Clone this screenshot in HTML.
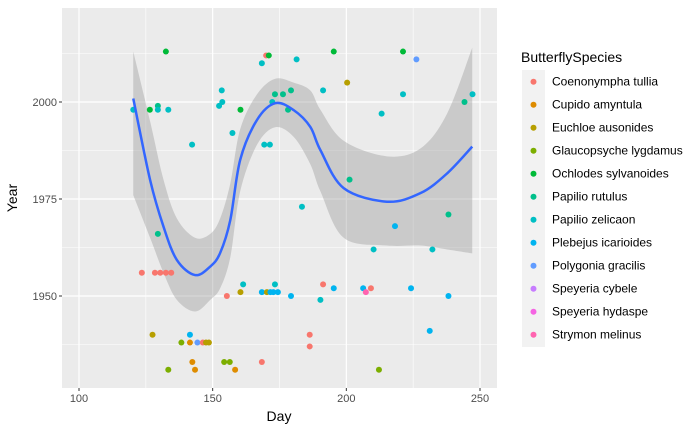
<!DOCTYPE html>
<html><head><meta charset="utf-8">
<style>
body{margin:0;background:#fff;}
svg{display:block;font-family:"Liberation Sans",sans-serif;}
</style></head>
<body>
<svg id="chart" width="700" height="432" xmlns="http://www.w3.org/2000/svg">
<rect x="0" y="0" width="700" height="432" fill="#fff"/>
<rect x="62" y="8" width="435" height="380" fill="#EBEBEB"/>
<g id="grid"></g>
<g id="band"></g>
<g id="points"></g>
<g id="smooth"></g>
<g id="axes"></g>
<text x="279" y="421" text-anchor="middle" font-size="14" fill="#000">Day</text>
<text x="17" y="198" text-anchor="middle" font-size="14" fill="#000" transform="rotate(-90 17 198)">Year</text>
<text x="521" y="62" font-size="14" fill="#000">ButterflySpecies</text>
<rect x="522" y="70" width="23" height="277" fill="#F2F2F2"/>
<g id="legend"></g>
</svg>
<script>
const species = ["Coenonympha tullia","Cupido amyntula","Euchloe ausonides","Glaucopsyche lygdamus","Ochlodes sylvanoides","Papilio rutulus","Papilio zelicaon","Plebejus icarioides","Polygonia gracilis","Speyeria cybele","Speyeria hydaspe","Strymon melinus"];
const colors = ["#F8766D","#DE8C00","#B79F00","#7CAE00","#00BA38","#00C08B","#00BFC4","#00B4F0","#619CFF","#C77CFF","#F564E3","#FF64B0"];
const xTicks = [100,150,200,250];
const yTicks = [1950,1975,2000];
// point data: day, year, species index
const ptDay =  [132.5,170,171,168.4,181.4,153.4,153.6,152.4,120.3,126.5,129.5,129.5,133.4,160.4,157.4,142.3,173.3,176.3,179.3,172.3,178.2,169.3,171.4,183.4,129.5,123.5,128.4,130.4,132.5,134.5,161.4,173.3,155.3,160.4,168.4,170.3,171.6,172.7,174.4,179.3,127.5,141.5,138.3,141.5,144.3,146.3,147.5,148.6,142.4,143.4,133.4,154.3,156.4,158.4,168.4,186.3,186.3,195.3,221.2,226.2,200.3,191.3,221.2,213.2,244.2,247.2,201.2,238.2,218.2,210.2,232.2,191.3,195.3,206.3,209.2,207.3,224.2,190.3,238.2,231.2,212.2];
const ptYear = [2013,2012,2012,2010,2011,2003,2000,1999,1998,1998,1999,1998,1998,1998,1992,1989,2002,2002,2003,2000,1998,1989,1989,1973,1966,1956,1956,1956,1956,1956,1953,1953,1950,1951,1951,1951,1951,1951,1951,1950,1940,1940,1938,1938,1938,1938,1938,1938,1933,1931,1931,1933,1933,1931,1933,1940,1937,2013,2013,2011,2005,2003,2002,1997,2000,2002,1980,1971,1968,1962,1962,1953,1952,1952,1952,1951,1952,1949,1950,1941,1931];
const ptSp =   [4,0,4,6,6,6,6,6,6,4,5,6,6,4,6,6,5,5,5,6,5,6,6,6,5,0,0,0,0,0,6,6,0,2,7,2,7,7,7,7,2,7,3,1,8,0,2,2,1,1,3,3,3,1,0,0,0,4,4,8,2,6,6,6,5,6,5,5,7,6,6,0,7,7,0,11,7,6,7,7,3];
// loess fit
const fitDay = [120.3,126.6,131.6,136.6,143.4,149.1,152.8,156.6,160.3,166.6,173.4,180.3,186.5,190.3,199.0,215.2,227.7,237.7,247.1];
const fitYear= [2000.9,1979.9,1967.9,1959.3,1955.4,1957.6,1961.1,1969.6,1985.1,1995.4,1999.7,1997.9,1993.6,1987.6,1977.8,1974.3,1976.5,1981.6,1988.5];
const fitHi  = [2013,1995,1980,1970,1965,1966,1970,1979,1993,2002,2006,2005,2003,1998,1990,1986,1988,1997,2014];
const fitLo  = [1976,1965,1956,1949,1946,1949,1952,1960,1977,1989,1993.5,1991,1984,1977,1965,1963,1963,1962,1961];

const NS="http://www.w3.org/2000/svg";
const X0=62,X1=497,Y0=8,Y1=388;
const xs = d => 79 + (d-100)*(401/150);
const ys = y => 102 - (y-2000)*3.88;
function mk(tag,attrs,parent){const e=document.createElementNS(NS,tag);for(const k in attrs)e.setAttribute(k,attrs[k]);parent.appendChild(e);return e;}
const grid=document.getElementById('grid');
[125,175,225].forEach(v=>{const l=mk('line',{x1:xs(v),x2:xs(v),y1:Y0,y2:Y1,stroke:'#fff','stroke-width':0.6},grid);

});
[1937.5,1962.5,1987.5,2012.5].forEach(v=>{const l=mk('line',{x1:X0,x2:X1,y1:ys(v),y2:ys(v),stroke:'#fff','stroke-width':0.6},grid);

});
const axes=document.getElementById('axes');
xTicks.forEach(v=>{const l=mk('line',{x1:xs(v),x2:xs(v),y1:Y0,y2:Y1,stroke:'#fff','stroke-width':1.2},grid);


const t=mk('line',{x1:xs(v),x2:xs(v),y1:Y1,y2:Y1+3,stroke:'#333','stroke-width':1},axes);


const tx=mk('text',{x:xs(v),y:Y1+14,'text-anchor':'middle','font-size':11,fill:'#4D4D4D'},axes);tx.textContent=v;

});
yTicks.forEach(v=>{const l=mk('line',{x1:X0,x2:X1,y1:ys(v),y2:ys(v),stroke:'#fff','stroke-width':1.2},grid);


const t=mk('line',{x1:X0-3,x2:X0,y1:ys(v),y2:ys(v),stroke:'#333','stroke-width':1},axes);


const tx=mk('text',{x:X0-5,y:ys(v)+4,'text-anchor':'end','font-size':11,fill:'#4D4D4D'},axes);tx.textContent=v;

});
function smoothPath(px,py,move){let d=move?`M${px[0]},${py[0]}`:`L${px[0]},${py[0]}`;
for(let i=0;i<px.length-1;i++){const p0=i?i-1:i,p3=i+2<px.length?i+2:i+1;
const c1x=px[i]+(px[i+1]-px[p0])/6,c1y=py[i]+(py[i+1]-py[p0])/6,c2x=px[i+1]-(px[p3]-px[i])/6,c2y=py[i+1]-(py[p3]-py[i])/6;
d+=`C${c1x},${c1y} ${c2x},${c2y} ${px[i+1]},${py[i+1]}`;}return d;}
const fx=fitDay.map(xs);
const bd=smoothPath(fx,fitHi.map(ys),true)+smoothPath(fx.slice().reverse(),fitLo.map(ys).reverse(),false)+'Z';
const band=mk('path',{d:bd,fill:'#999','fill-opacity':0.4},document.getElementById('band'));


const pg=document.getElementById('points');
ptDay.forEach((d,i)=>{const c=mk('circle',{cx:xs(d),cy:ys(ptYear[i]),r:3,fill:colors[ptSp[i]]},pg);

});
const ln=mk('path',{d:smoothPath(fx,fitYear.map(ys),true),fill:'none',stroke:'#3366FF','stroke-width':2.5},document.getElementById('smooth'));


const lg=document.getElementById('legend');
species.forEach((s,i)=>{const y=81.7+i*23;
const g=mk('g',{},lg);


mk('circle',{cx:533.5,cy:y,r:3,fill:colors[i]},g);
const t=mk('text',{x:552,y:y+4,'font-size':12,fill:'#000'},g);t.textContent=s;});
</script>
</body></html>
